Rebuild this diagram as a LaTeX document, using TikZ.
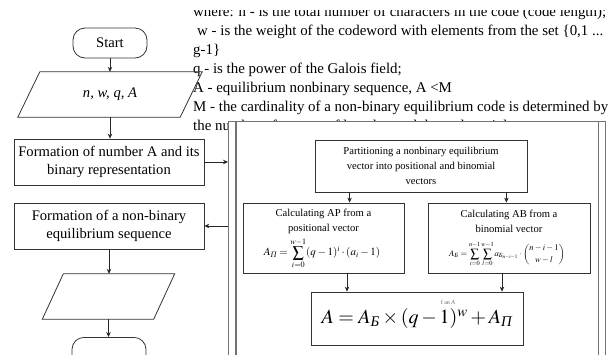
\documentclass[tikz,border=0pt]{standalone}
\usepackage{amsmath}
\usepackage{mathptmx}
\usepackage{fontspec}
\setmainfont{Liberation Serif}
\usetikzlibrary{arrows.meta,calc}
\begin{document}
\begin{tikzpicture}[x=1pt,y=-1pt,
  arr/.style={-{Stealth[length=5pt,width=4.5pt]}, line width=0.7pt, draw=black!85},
  boxline/.style={draw=black!80, line width=0.8pt},
  boxl/.style={boxline, align=center, inner sep=0pt, font=\fontsize{14.6}{18}\selectfont},
  boxs/.style={boxline, align=center, inner sep=0pt, font=\fontsize{10.6}{15}\selectfont},
  intext/.style={align=center, inner sep=0pt, font=\fontsize{10.6}{15}\selectfont},
  term/.style={boxline, rounded corners=12pt, minimum width=74pt, minimum height=30pt, inner sep=0pt, font=\fontsize{14.6}{18}\selectfont},
  notetext/.style={anchor=base west, inner sep=0pt, font=\fontsize{14.9}{19}\selectfont},
  frameline/.style={draw=black!55, line width=1.3pt},
]
\useasboundingbox (0,0) rectangle (613,354);
\fill[white] (0,0) rectangle (613,354);

% note text
\begin{scope}
\clip (185,10.5) rectangle (613,354);
\node[notetext] (t1) at (193,16) {where: n - is the total number of characters in the code (code length);};
\node[notetext] (t2) at (197,35) {w - is the weight of the codeword with elements from the set \{0,1 ...};
\node[notetext] (t3) at (193,54) {g-1\}};
\node[notetext] (t4) at (193,73) {q - is the power of the Galois field;};
\node[notetext] (t5) at (193,92) {A - equilibrium nonbinary sequence, A <M};
\node[notetext] (t6) at (193,111) {M - the cardinality of a non-binary equilibrium code is determined by};
\node[notetext] (t7) at (193,130) {the number of vectors of length n and the code weight};
\end{scope}

% frame
\node[frameline, fill=white, minimum width=377pt, minimum height=260pt, inner sep=0pt, anchor=north west] (frame) at (228,121) {};
\draw[frameline] ([xshift=8pt]frame.north west) -- ([xshift=8pt]frame.south west);
\draw[frameline] ([xshift=-8pt]frame.north east) -- ([xshift=-8pt]frame.south east);

% left column
\node[term] (start) at (110,43) {Start};
\node[minimum width=162pt, minimum height=45pt, inner sep=0pt, font=\fontsize{14.6}{18}\selectfont\itshape] (in1) at (110,94.5) {n, w, q, A};
\draw[boxline] ($(in1.north west)+(11,0)$) -- ($(in1.north east)+(11,0)$) -- ($(in1.south east)+(-11,0)$) -- ($(in1.south west)+(-11,0)$) -- cycle;
\node[boxl, minimum width=190pt, minimum height=46pt] (b1) at (109,162) {Formation of number A and its\\binary representation};
\node[boxl, minimum width=190pt, minimum height=46pt] (b2) at (109,226) {Formation of a non-binary\\equilibrium sequence};
\node[minimum width=111pt, minimum height=45pt, inner sep=0pt] (out) at (108.5,296.5) {};
\draw[boxline] ($(out.north west)+(10.5,0)$) -- ($(out.north east)+(10.5,0)$) -- ($(out.south east)+(-10.5,0)$) -- ($(out.south west)+(-10.5,0)$) -- cycle;
\node[term, anchor=north] (end) at (109,337) {};

\draw[arr] (start.south) -- (start.south |- in1.north);
\draw[arr] (in1.south) -- (in1.south |- b1.north);
\draw[arr] (b1.east) -- (b1.east -| frame.west);
\draw[arr] (b2.east -| frame.west) -- (b2.east);
\draw[arr] (b2.south) -- (b2.south |- out.north);
\draw[arr] (out.south) -- (out.south |- end.north);

% inner blocks
\node[boxs, minimum width=212pt, minimum height=52pt] (part) at (421,166) {Partitioning a nonbinary equilibrium\\vector into positional and binomial\\vectors};
\node[boxline, minimum width=161pt, minimum height=70pt, inner sep=0pt] (ap) at (323.5,238) {};
\node[intext] (aptext) at (323.5,221.5) {Calculating AP from a\\positional vector};
\node[inner sep=0pt, font=\fontsize{11}{13}\selectfont] (apf) at (322,253) {$\displaystyle A_{\text{\itshape П}} = \sum_{i=0}^{w-1}(q-1)^i\cdot(a_i-1)$};
\node[boxline, minimum width=162pt, minimum height=70pt, inner sep=0pt] (ab) at (509,238) {};
\node[intext] (abtext) at (509,221.5) {Calculating AB from a\\binomial vector};
\node[inner sep=0pt, font=\fontsize{8.6}{10}\selectfont] (abf) at (507,254) {$\displaystyle A_{\text{\itshape Б}} = \sum_{i=0}^{n-1}\sum_{l=0}^{w-1} a_{\text{\itshape Б}_{n-i-1}}\cdot\binom{n-i-1}{w-l}$};
\node[boxline, minimum width=212pt, minimum height=53pt, inner sep=0pt, font=\fontsize{20}{24}\selectfont] (res) at (417,318.5) {$A = A_{\text{\itshape Б}}\times(q-1)^w + A_{\text{\itshape П}}$};
\node[font=\fontsize{6}{7}\selectfont, text=black!60, inner sep=0pt] (fan) at (448,302) {f an \textit{A}};

\draw[arr] ([xshift=35pt]part.south west) -- ([xshift=35pt]part.south west |- ap.north);
\draw[arr] ([xshift=-21pt]part.south east) -- ([xshift=-21pt]part.south east |- ab.north);
\draw[arr] ([xshift=23.5pt]ap.south) -- ([xshift=23.5pt]ap.south |- res.north);
\draw[arr] ([xshift=-7pt]ab.south) -- ([xshift=-7pt]ab.south |- res.north);
\end{tikzpicture}
\end{document}
